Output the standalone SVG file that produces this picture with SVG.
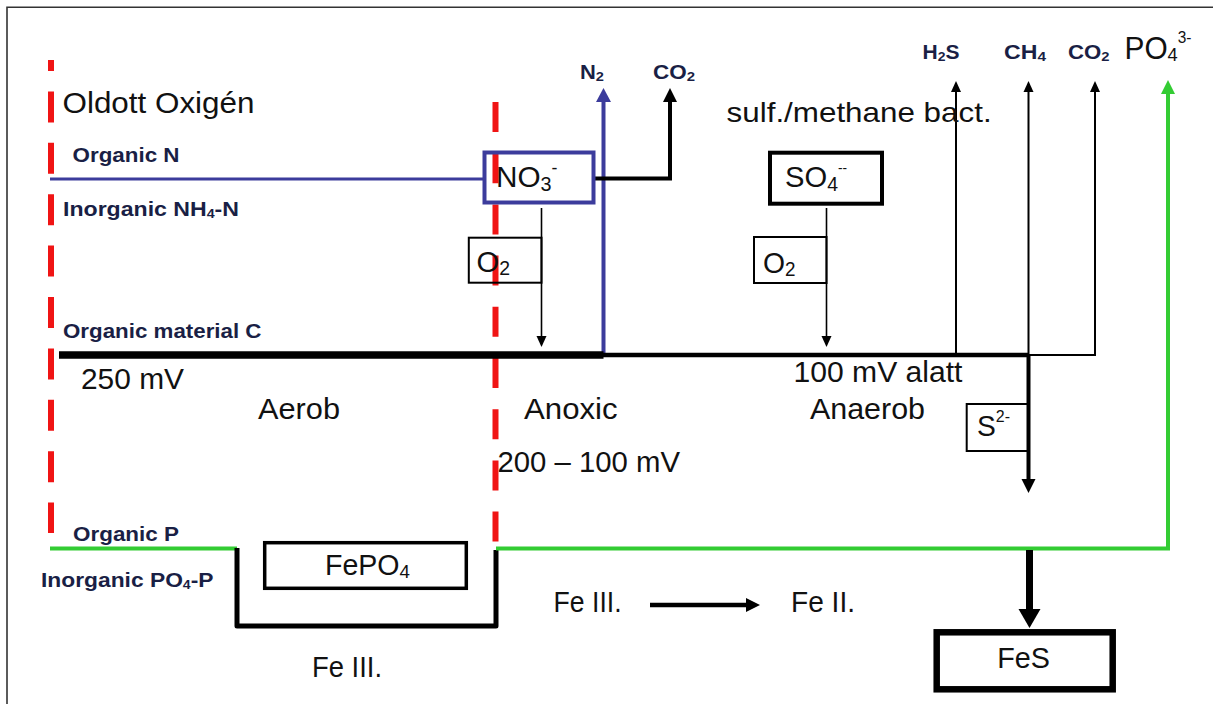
<svg xmlns="http://www.w3.org/2000/svg" width="1213" height="704" viewBox="0 0 1213 704">
<style>
text{font-family:"Liberation Sans",Arial,sans-serif;fill:#111;}
.big{font-size:29px;}
.sm{font-size:19.5px;fill:#1a1f45;font-weight:bold;}
.box{fill:none;stroke:#000;}
.red{fill:none;stroke:#f01414;stroke-width:6;}
.ln{fill:none;stroke:#000;}
</style>
<defs>
<marker id="ahS" markerUnits="userSpaceOnUse" orient="auto" overflow="visible"><path d="M-1,-5 L10,0 L-1,5 z" fill="#000"/></marker>
<marker id="ahM" markerUnits="userSpaceOnUse" orient="auto" overflow="visible"><path d="M-1,-7 L13,0 L-1,7 z" fill="#000"/></marker>
<marker id="ahB" markerUnits="userSpaceOnUse" orient="auto" overflow="visible"><path d="M-1,-7.5 L13,0 L-1,7.5 z" fill="#3c3c9c"/></marker>
<marker id="ahG" markerUnits="userSpaceOnUse" orient="auto" overflow="visible"><path d="M-1,-7 L13,0 L-1,7 z" fill="#33cc33"/></marker>
<marker id="ahL" markerUnits="userSpaceOnUse" orient="auto" overflow="visible"><path d="M-1,-11 L18,0 L-1,11 z" fill="#000"/></marker>
</defs>
<rect width="1213" height="704" fill="#fff"/>
<path d="M7,704 V7.3 H1213" fill="none" stroke="#333" stroke-width="1.6"/>

<g id="zones">
<line class="red" x1="51" y1="60" x2="51" y2="533" stroke-dasharray="31 20.4" stroke-dashoffset="20"/>
<line class="red" x1="495.5" y1="102" x2="495.5" y2="542" stroke-dasharray="30 21.2"/>
</g>

<g id="connectors">
<path d="M50,179 H484" fill="none" stroke="#3c3c9c" stroke-width="3"/>
<path d="M603.5,355 V101" fill="none" stroke="#3c3c9c" stroke-width="4" marker-end="url(#ahB)"/>
<path class="ln" d="M595,178.5 H670 V101" stroke-width="4" marker-end="url(#ahM)"/>
<path class="ln" d="M541.5,208 V337" stroke-width="1.6" marker-end="url(#ahS)"/>
<path class="ln" d="M826.5,208 V337" stroke-width="1.6" marker-end="url(#ahS)"/>
<path class="ln" d="M59,355 H603.5" stroke-width="7.5"/>
<path class="ln" d="M603,355 H1029" stroke-width="4.5"/>
<path class="ln" d="M1028.5,355 H1095 V91" stroke-width="2" marker-end="url(#ahS)"/>
<path class="ln" d="M956,355 V91" stroke-width="2" marker-end="url(#ahS)"/>
<path class="ln" d="M1028.5,355 V91" stroke-width="2" marker-end="url(#ahS)"/>
<path class="ln" d="M1028.5,355 V480" stroke-width="4" marker-end="url(#ahM)"/>
<path d="M50,548.5 H237" fill="none" stroke="#33cc33" stroke-width="4"/>
<path class="ln" d="M237,548 V626 H496 V550" stroke-width="5" stroke-linejoin="round"/>
<path d="M496,548.5 H1168 V93" fill="none" stroke="#33cc33" stroke-width="4" marker-end="url(#ahG)"/>
<path class="ln" d="M1029.5,550 V610" stroke-width="7" marker-end="url(#ahL)"/>
<path class="ln" d="M650,605 H747" stroke-width="4.5" marker-end="url(#ahM)"/>
</g>

<g id="label-oxygen"><text class="big" x="62.5" y="113" textLength="192" lengthAdjust="spacingAndGlyphs">Oldott Oxigén</text></g>
<g id="label-organic-n"><text class="sm" x="72.5" y="162" textLength="107" lengthAdjust="spacingAndGlyphs">Organic N</text></g>
<g id="label-nh4"><text class="sm" x="63" y="216" textLength="176" lengthAdjust="spacingAndGlyphs">Inorganic NH<tspan font-size="12" dy="2">4</tspan><tspan dy="-2">-N</tspan></text></g>
<g id="label-organic-c"><text class="sm" x="63" y="337.5" textLength="198.5" lengthAdjust="spacingAndGlyphs">Organic material C</text></g>
<g id="label-organic-p"><text class="sm" x="73" y="540.5" textLength="106" lengthAdjust="spacingAndGlyphs">Organic P</text></g>
<g id="label-po4p"><text class="sm" x="41" y="587" textLength="172.5" lengthAdjust="spacingAndGlyphs">Inorganic PO<tspan font-size="12" dy="2">4</tspan><tspan dy="-2">-P</tspan></text></g>

<g id="node-no3">
<rect x="484.5" y="152.5" width="109" height="50" fill="none" stroke="#3c3c9c" stroke-width="4"/>
<text x="496" y="186.5" font-size="30" textLength="61.5" lengthAdjust="spacingAndGlyphs">NO<tspan font-size="20" dy="4">3</tspan><tspan font-size="18" dy="-17">-</tspan></text>
</g>
<g id="label-n2"><text class="sm" x="580" y="79" textLength="24" lengthAdjust="spacingAndGlyphs">N<tspan font-size="13" dy="2">2</tspan></text></g>
<g id="label-co2-a"><text class="sm" x="653" y="79" textLength="42" lengthAdjust="spacingAndGlyphs">CO<tspan font-size="13" dy="2">2</tspan></text></g>

<g id="node-o2-a">
<rect class="box" x="468.8" y="237.7" width="72.7" height="45" stroke-width="2"/>
<text x="476.5" y="271.5" font-size="30" textLength="33.5" lengthAdjust="spacingAndGlyphs">O<tspan font-size="20" dy="3">2</tspan></text>
</g>

<g id="label-bact"><text x="726.6" y="122" font-size="28" textLength="265" lengthAdjust="spacingAndGlyphs">sulf./methane bact.</text></g>
<g id="node-so4">
<rect class="box" x="770" y="152.7" width="112" height="51" stroke-width="4"/>
<text x="785" y="186.5" font-size="30" textLength="62" lengthAdjust="spacingAndGlyphs">SO<tspan font-size="20" dy="4">4</tspan><tspan font-size="14" dy="-18">--</tspan></text>
</g>
<g id="node-o2-b">
<rect class="box" x="754" y="237" width="72.5" height="46" stroke-width="2"/>
<text x="763" y="272.5" font-size="30" textLength="32.5" lengthAdjust="spacingAndGlyphs">O<tspan font-size="20" dy="3">2</tspan></text>
</g>

<g id="label-h2s"><text class="sm" x="922.5" y="59" textLength="37" lengthAdjust="spacingAndGlyphs">H<tspan font-size="13" dy="2">2</tspan><tspan dy="-2">S</tspan></text></g>
<g id="label-ch4"><text class="sm" x="1004" y="59" textLength="42" lengthAdjust="spacingAndGlyphs">CH<tspan font-size="13" dy="2">4</tspan></text></g>
<g id="label-co2-b"><text class="sm" x="1068" y="59" textLength="41.5" lengthAdjust="spacingAndGlyphs">CO<tspan font-size="13" dy="2">2</tspan></text></g>
<g id="label-po4"><text x="1124.5" y="59" font-size="31" textLength="67" lengthAdjust="spacingAndGlyphs">PO<tspan font-size="19" dy="2">4</tspan><tspan font-size="16" dy="-18">3-</tspan></text></g>

<g id="label-250"><text class="big" x="81" y="389" textLength="103" lengthAdjust="spacingAndGlyphs">250 mV</text></g>
<g id="label-aerob"><text class="big" x="258" y="419" textLength="82" lengthAdjust="spacingAndGlyphs">Aerob</text></g>
<g id="label-anoxic"><text class="big" x="524" y="419" textLength="93.6" lengthAdjust="spacingAndGlyphs">Anoxic</text></g>
<g id="label-200"><text class="big" x="497.5" y="471.5" textLength="182.5" lengthAdjust="spacingAndGlyphs">200 – 100 mV</text></g>
<g id="label-100"><text class="big" x="793.5" y="381.5" textLength="169" lengthAdjust="spacingAndGlyphs">100 mV alatt</text></g>
<g id="label-anaerob"><text class="big" x="810" y="419" textLength="115" lengthAdjust="spacingAndGlyphs">Anaerob</text></g>

<g id="node-s2">
<rect class="box" x="966.7" y="404" width="61.8" height="47" stroke-width="2"/>
<text x="977" y="436" font-size="30" textLength="33" lengthAdjust="spacingAndGlyphs">S<tspan font-size="17" dy="-14">2-</tspan></text>
</g>

<g id="node-fepo4">
<rect class="box" x="264.7" y="542.7" width="201.6" height="45.6" stroke-width="3.5"/>
<text x="325" y="575" class="big" textLength="85" lengthAdjust="spacingAndGlyphs">FePO<tspan font-size="19" dy="3">4</tspan></text>
</g>
<g id="label-fe3-a"><text class="big" x="312" y="676.5" textLength="70" lengthAdjust="spacingAndGlyphs">Fe III.</text></g>
<g id="label-fe3-b"><text class="big" x="553.6" y="611.7" textLength="68" lengthAdjust="spacingAndGlyphs">Fe III.</text></g>
<g id="label-fe2"><text class="big" x="791" y="611.7" textLength="64" lengthAdjust="spacingAndGlyphs">Fe II.</text></g>

<g id="node-fes">
<rect class="box" x="936.7" y="632.3" width="176" height="57" stroke-width="6.5"/>
<text class="big" x="997.3" y="668.3" textLength="52.7" lengthAdjust="spacingAndGlyphs">FeS</text>
</g>
</svg>
